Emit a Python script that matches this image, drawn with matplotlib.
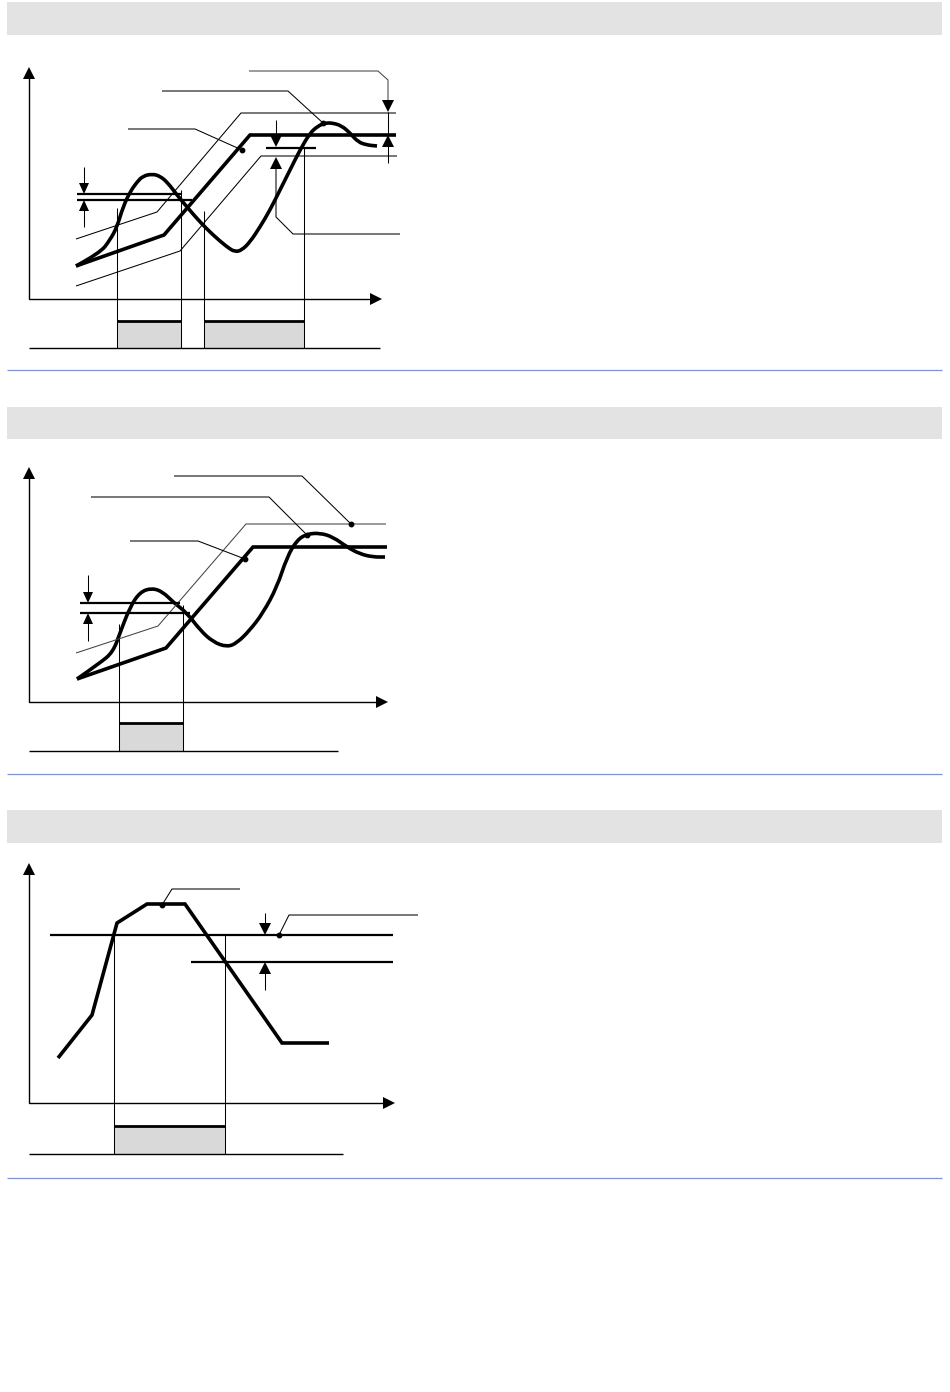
import matplotlib
matplotlib.use('Agg')
import matplotlib.pyplot as plt
from matplotlib.patches import Rectangle, Polygon, PathPatch
from matplotlib.path import Path
#
# -> picture coordinates, pixels from top left (950 x 1392)
#
HEADER_COLOR = '#e3e3e3'
BOX_COLOR    = '#d9d9d9'
SEP_COLOR    = '#7f93d4'
#
headers    = [(2, 35), (407, 439), (810, 843)]
separators = [370, 774, 1178]
#
# panel 1
p1_axis      = (29, 67, 299, 382)           # x, ytip, yaxis, xtip
p1_base      = (29, 380, 348)
p1_boxes     = [(117, 181, 321), (204, 304, 321)]
p1_verticals = [(117, 208), (181, 190), (204, 211), (304, 148)]
p1_ramp      = [(76, 266), (164, 235), (250, 135), (396, 135)]
p1_band_hi   = [(76, 239), (157, 212), (241, 113), (396, 113)]
p1_band_lo   = [(76, 286), (180, 251), (261, 156), (397, 156)]
p1_pv        = [(76, 266), (100, 253), (110, 240), (117, 227), (123, 207), (130, 192), (137, 182),
                (143, 176), (152, 174), (160, 176), (168, 183), (177, 195), (187, 207), (200, 222),
                (213, 235), (227, 247), (235, 252), (242, 250), (250, 242), (260, 227), (270, 210),
                (280, 190), (290, 170), (300, 150), (310, 133), (318, 126), (325, 123), (333, 123),
                (342, 126), (350, 133), (358, 142), (367, 145), (377, 146)]
p1_hyst      = [(77, 182, 194), (77, 192, 200)]
p1_hyst_arr  = (84, 167, 194, 200, 227)
p1_short     = (266, 316, 148)
p1_leaders   = [[(162, 91), (288, 91), (323, 123)],
                [(128, 129), (195, 129), (242, 150)]]
p1_right     = [(249, 71), (378, 71), (388, 80), (388, 100)]
p1_right_arr = (388, 112, 135, 163)
p1_mid_arr   = (276, 120, 147, 157)
p1_mid_tail  = [(276, 167), (276, 217), (293, 234), (400, 234)]
#
# panel 2
p2_axis      = (29, 467, 702, 388)
p2_base      = (29, 338, 751)
p2_boxes     = [(119, 183, 723)]
p2_verticals = [(119, 624), (183, 605)]
p2_ramp      = [(77, 679), (166, 648), (253, 547), (387, 547)]
p2_band_hi   = [(76, 653), (158, 626), (246, 524), (386, 524)]
p2_pv        = [(77, 679), (100, 663), (113, 652), (120, 633), (130, 607), (140, 592), (152, 588),
                (163, 592), (173, 602), (187, 613), (200, 630), (213, 642), (227, 647), (237, 643),
                (250, 630), (263, 613), (277, 587), (287, 557), (297, 540), (307, 534), (320, 533),
                (333, 537), (347, 547), (360, 554), (373, 557), (385, 557)]
p2_hyst      = [(80, 180, 603), (80, 190, 613)]
p2_hyst_arr  = (88, 575, 603, 613, 641)
p2_leaders   = [[(174, 476), (302, 476), (351, 524)],
                [(91, 497), (269, 497), (307, 535)],
                [(130, 541), (198, 541), (245, 559)]]
#
# panel 3
p3_axis      = (29, 863, 1103, 395)
p3_base      = (29, 343, 1154)
p3_boxes     = [(114, 225, 1126)]
p3_verticals = [(114, 935), (225, 935)]
p3_pv        = [(58, 1058), (92, 1015), (117, 923), (147, 904), (185, 904), (282, 1043), (329, 1043)]
p3_levels    = [(50, 393, 935), (191, 393, 962)]
p3_lvl_arr   = (265, 913, 935, 962, 990)
p3_leaders   = [[(240, 889), (172, 889), (162, 905)],
                [(418, 915), (289, 915), (279, 935)]]
#
THIN  = 0.75
AXLW  = 1.0
THICK = 2.6


def head(ax, x, y, direction, w=12, h=12):
    # filled triangle, tip at (x, y)
    if direction == 'down':
        pts = [(x, y), (x - w / 2, y - h), (x + w / 2, y - h)]
    elif direction == 'up':
        pts = [(x, y), (x - w / 2, y + h), (x + w / 2, y + h)]
    else:
        pts = [(x, y), (x - h, y - w / 2), (x - h, y + w / 2)]
    ax.add_patch(Polygon(pts, closed=True, color='black', lw=0))


def smooth(ax, pts, lw):
    # quadratic curve through the midpoints of the control points
    verts = [pts[0]]
    codes = [Path.MOVETO]
    for i in range(1, len(pts) - 1):
        mid = ((pts[i][0] + pts[i + 1][0]) / 2, (pts[i][1] + pts[i + 1][1]) / 2)
        verts += [pts[i], mid]
        codes += [Path.CURVE3, Path.CURVE3]
    verts.append(pts[-1])
    codes.append(Path.LINETO)
    ax.add_patch(PathPatch(Path(verts, codes), fill=False, lw=lw, capstyle='butt', joinstyle='round'))


def line(ax, pts, lw=THIN, color='black'):
    ax.plot([p[0] for p in pts], [p[1] for p in pts], color=color, lw=lw,
            solid_joinstyle='miter', solid_capstyle='butt')


def frame(ax, axis, base, boxes, verticals):
    x0, ytip, yax, xtip = axis
    line(ax, [(x0, ytip + 10), (x0, yax), (xtip - 10, yax)], lw=AXLW)
    head(ax, x0, ytip, 'up')
    head(ax, xtip, yax, 'right')
    for (a, b, top) in boxes:
        ax.add_patch(Rectangle((a, top), b - a, base[2] - top, facecolor=BOX_COLOR, edgecolor='none'))
        line(ax, [(a, top), (b, top)], lw=2.0)
    for (x, y) in verticals:
        line(ax, [(x, y), (x, base[2])], lw=THIN)
    line(ax, [(base[0], base[2]), (base[1], base[2])], lw=AXLW)


def dot(ax, p):
    ax.plot(p[0], p[1], 'o', color='black', ms=3.2)


fig = plt.figure(figsize=(9.5, 13.92), dpi=100)
ax = fig.add_axes([0, 0, 1, 1])
ax.set_xlim(0, 950)
ax.set_ylim(1392, 0)
ax.axis('off')
#
for (a, b) in headers:
    ax.add_patch(Rectangle((7, a), 935, b - a, facecolor=HEADER_COLOR, edgecolor='none'))
for y in separators:
    line(ax, [(7, y), (942, y)], lw=0.9, color=SEP_COLOR)
#
# -> panel 1
frame(ax, p1_axis, p1_base, p1_boxes, p1_verticals)
line(ax, p1_band_hi)
line(ax, p1_band_lo)
line(ax, p1_ramp, lw=THICK)
smooth(ax, p1_pv, THICK)
for (a, b, y) in p1_hyst:
    line(ax, [(a, y), (b, y)], lw=1.6)
x, y0, y1, y2, y3 = p1_hyst_arr
line(ax, [(x, y0), (x, y1 - 10)])
head(ax, x, y1, 'down', 10, 11)
line(ax, [(x, y2 + 10), (x, y3)])
head(ax, x, y2, 'up', 10, 11)
line(ax, [(p1_short[0], p1_short[2]), (p1_short[1], p1_short[2])], lw=1.6)
for ld in p1_leaders:
    line(ax, ld)
    dot(ax, ld[-1])
line(ax, p1_right, color='#444444')
x, yt, yb, ye = p1_right_arr
head(ax, x, yt, 'down')
line(ax, [(x, yt), (x, yb)])
head(ax, x, yb, 'up')
line(ax, [(x, yb + 10), (x, ye)])
x, yt, yb, yl = p1_mid_arr
line(ax, [(x, yt), (x, yb - 10)])
head(ax, x, yb, 'down')
head(ax, x, yl, 'up')
line(ax, p1_mid_tail)
#
# -> panel 2
frame(ax, p2_axis, p2_base, p2_boxes, p2_verticals)
line(ax, p2_band_hi, color='#444444')
line(ax, p2_ramp, lw=THICK)
smooth(ax, p2_pv, THICK)
for (a, b, y) in p2_hyst:
    line(ax, [(a, y), (b, y)], lw=1.6)
x, y0, y1, y2, y3 = p2_hyst_arr
line(ax, [(x, y0), (x, y1 - 10)])
head(ax, x, y1, 'down', 10, 11)
line(ax, [(x, y2 + 10), (x, y3)])
head(ax, x, y2, 'up', 10, 11)
for ld in p2_leaders:
    line(ax, ld)
    dot(ax, ld[-1])
#
# -> panel 3
frame(ax, p3_axis, p3_base, p3_boxes, p3_verticals)
for (a, b, y) in p3_levels:
    line(ax, [(a, y), (b, y)], lw=1.6)
line(ax, p3_pv, lw=THICK)
x, y0, y1, y2, y3 = p3_lvl_arr
line(ax, [(x, y0), (x, y1 - 10)])
head(ax, x, y1, 'down')
line(ax, [(x, y2 + 10), (x, y3)])
head(ax, x, y2, 'up')
for ld in p3_leaders:
    line(ax, ld)
    dot(ax, ld[-1])
#
fig.savefig('out.png', dpi=100)
